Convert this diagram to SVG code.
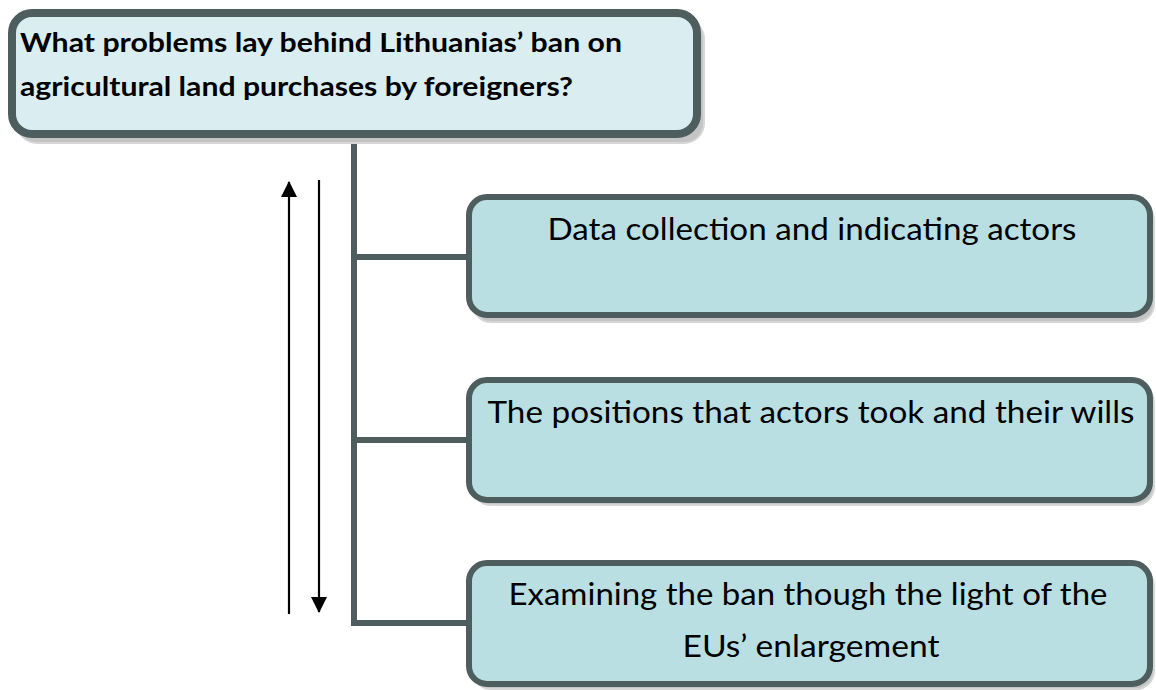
<svg xmlns="http://www.w3.org/2000/svg" width="1156" height="690" viewBox="0 0 1156 690">
<style>
.shadow{fill:#c4c4c4;stroke:#d6d6d6;stroke-width:2}
.main{fill:#daedf0;stroke:#4e5d5d;stroke-width:8}
.child{fill:#b9dfe3;stroke:#4e5d5d;stroke-width:6}
.conn{fill:none;stroke:#4e5d5d;stroke-width:6}
.arrow{fill:none;stroke:#000;stroke-width:2.2}
.tb{font-family:Lato,"Open Sans","Liberation Sans",sans-serif;font-weight:bold;font-size:26px;fill:#000}
.tc{font-family:Lato,"Open Sans","Liberation Sans",sans-serif;font-size:31px;fill:#000;text-anchor:middle}
</style>
<defs>
<marker id="ah" markerUnits="userSpaceOnUse" markerWidth="16" markerHeight="16" viewBox="0 0 16 16" refX="15" refY="8" orient="auto">
<path d="M0,0 L16,8 L0,16 Z" fill="#000"/>
</marker>
</defs>
<g id="connectors">
<path class="conn" d="M354,136 V623 H469"/>
<path class="conn" d="M354,257 H469"/>
<path class="conn" d="M354,440 H469"/>
<line class="arrow" x1="289" y1="614" x2="289" y2="182" marker-end="url(#ah)"/>
<line class="arrow" x1="319" y1="180" x2="319" y2="612" marker-end="url(#ah)"/>
</g>
<g id="root">
<rect class="shadow" x="17" y="19" width="687" height="124" rx="20"/>
<rect class="main" x="12" y="13" width="685" height="121" rx="20"/>
<text class="tb" x="20" y="52" textLength="602" lengthAdjust="spacingAndGlyphs">What problems lay behind Lithuanias’ ban on</text>
<text class="tb" x="20" y="96" textLength="553" lengthAdjust="spacingAndGlyphs">agricultural land purchases by foreigners?</text>
</g>
<g id="node1">
<rect class="shadow" x="473" y="202" width="681" height="120" rx="18"/>
<rect class="child" x="469" y="197" width="681" height="118" rx="18"/>
<text class="tc" x="812" y="240" textLength="529" lengthAdjust="spacingAndGlyphs">Data collection and indicating actors</text>
</g>
<g id="node2">
<rect class="shadow" x="473" y="385" width="681" height="120" rx="18"/>
<rect class="child" x="469" y="380" width="681" height="120" rx="18"/>
<text class="tc" x="811" y="423" textLength="647" lengthAdjust="spacingAndGlyphs">The positions that actors took and their wills</text>
</g>
<g id="node3">
<rect class="shadow" x="473" y="568" width="681" height="121" rx="18"/>
<rect class="child" x="469" y="563" width="681" height="121" rx="18"/>
<text class="tc" x="808" y="605" textLength="599" lengthAdjust="spacingAndGlyphs">Examining the ban though the light of the</text>
<text class="tc" x="811" y="657" textLength="257" lengthAdjust="spacingAndGlyphs">EUs’ enlargement</text>
</g>
</svg>
